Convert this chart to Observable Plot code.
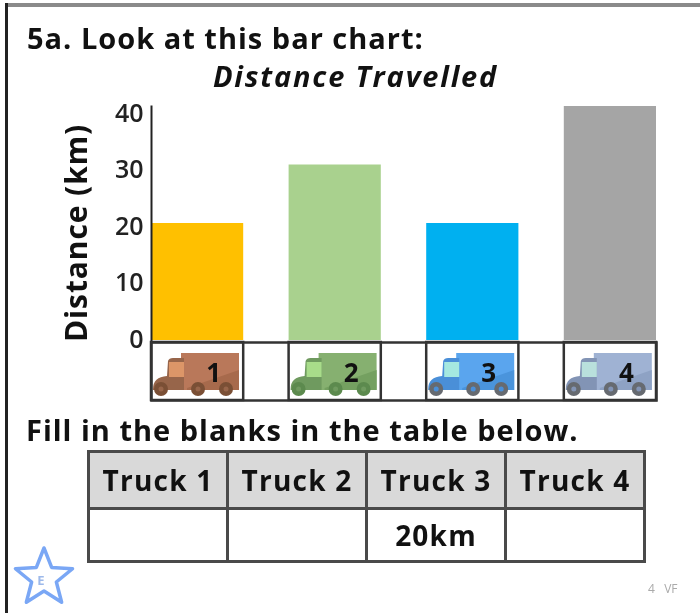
<!DOCTYPE html>
<html>
<head>
<meta charset="utf-8">
<script src="https://cdn.jsdelivr.net/npm/d3@7"></script>
<script src="https://cdn.jsdelivr.net/npm/@observablehq/plot@0.6"></script>
<style>
html,body{margin:0;padding:0;background:#fff}
#page{position:relative;width:700px;height:613px;overflow:hidden;background:#fff;font-family:"Open Sans",sans-serif;color:#111;filter:blur(0.6px)}
#page svg{position:absolute;left:0;background:transparent}
.t{position:absolute;white-space:nowrap;font-weight:700}
#frameTop{position:absolute;left:5px;top:3px;width:695px;height:4px;background:#8a8a8a}
#frameLeft{position:absolute;left:5px;top:3px;width:3px;height:610px;background:#222}
table{position:absolute;left:87px;top:450px;width:559px;height:113px;border-collapse:collapse;table-layout:fixed;font-weight:700;font-size:28px;letter-spacing:1.2px}
td,th{border:3px solid #4a4a4a;text-align:center;padding:0}
th{background:#d9d9d9;height:54px}
</style>
</head>
<body>
<div id="page">
  <div id="frameTop"></div><div id="frameLeft"></div>
  <div class="t" style="left:27px;top:18px;font-size:29px;letter-spacing:1px" id="title"></div>
  <div class="t" style="left:0;width:711px;text-align:center;top:56px;font-size:29px;font-style:italic;letter-spacing:1.8px" id="sub"></div>
  <div class="t" style="left:26px;top:410px;font-size:29px;letter-spacing:1px" id="fill"></div>
  <div class="t" style="left:648px;top:580px;font-size:12px;color:#aaa;font-weight:400;white-space:pre">4   VF</div>
</div>
<script>
const heading = "5a. Look at this bar chart:";
const chartTitle = "Distance Travelled";
const instruction = "Fill in the blanks in the table below.";
const yLabel = "Distance (km)";
const trucks = ["1", "2", "3", "4"];
const distances = [20, 30, 20, 40];
const barColors = ["#ffc000", "#a9d18e", "#00b0f0", "#a5a5a5"];
const yTicks = [0, 10, 20, 30, 40];
const tableHeaders = ["Truck 1", "Truck 2", "Truck 3", "Truck 4"];
const tableValues = ["", "", "20km", ""];
const truckBody = ["#b9785a", "#86b070", "#5aa5ee", "#9fb2d3"];
const truckLower = ["#a76a4c", "#74a060", "#4a94dc", "#8ea2c4"];
const truckCab = ["#97654a", "#6f9a5f", "#4a8fd8", "#8294b5"];
const truckWindow = ["#dc9668", "#a8dc8a", "#a5e8e0", "#b9e0dc"];
const truckWheel = ["#7a4f35", "#5c8a4e", "#666a70", "#666a70"];

const page = document.getElementById("page");
document.getElementById("title").textContent = heading;
document.getElementById("sub").textContent = chartTitle;
document.getElementById("fill").textContent = instruction;

const font = "'Open Sans', sans-serif";
const xScale = {domain: trucks, paddingInner: 0.33, paddingOuter: 0, align: 0, round: false};

// Bars
const bars = Plot.plot({
  width: 700, height: 613,
  marginTop: 106, marginBottom: 273, marginLeft: 151, marginRight: 44,
  style: {fontFamily: font, background: "transparent"},
  x: {...xScale, axis: null},
  y: {domain: [0, 40], axis: null},
  marks: [
    Plot.barY(trucks, {x: d => d, y: (d, i) => distances[i], fill: (d, i) => barColors[i]}),
    Plot.frame({anchor: "left", stroke: "#222", strokeWidth: 2})
  ],
  color: {type: "identity"}
});
bars.style.top = "0px";
page.appendChild(bars);

// Value axis: its labels sit on a slightly tighter spacing than the bars
const axis = Plot.plot({
  width: 700, height: 613,
  marginTop: 113, marginBottom: 274, marginLeft: 145, marginRight: 44,
  style: {fontFamily: font, background: "transparent", color: "#222"},
  x: {...xScale, axis: null},
  y: {domain: [0, 40], axis: null},
  marks: [
    Plot.axisY({ticks: yTicks, tickSize: 0, tickPadding: 2, label: null, fontSize: 25, fontWeight: 600})
  ]
});
axis.style.top = "0px";
page.appendChild(axis);

// Axis title, centred on the span it occupies in the reference
const axisTitle = Plot.plot({
  width: 700, height: 613,
  marginTop: 122, marginBottom: 270, marginLeft: 145, marginRight: 44,
  style: {fontFamily: font, background: "transparent", color: "#111", letterSpacing: "0.9px"},
  x: {...xScale, axis: null},
  y: {domain: [0, 40], axis: null},
  marks: [
    Plot.axisY({ticks: [], tickSize: 0, label: yLabel, labelAnchor: "center", labelArrow: "none", labelOffset: 80, fontSize: 30, fontWeight: 700})
  ]
});
axisTitle.style.top = "0px";
page.appendChild(axisTitle);

// Truck strip under the bars
function truckMark(index, scales) {
  const ns = "http://www.w3.org/2000/svg";
  const root = document.createElementNS(ns, "g");
  trucks.forEach((t, i) => {
    const g = d3.select(root).append("g").attr("transform", `translate(${scales.x(t)},2)`);
    g.append("path").attr("d", "M30 11 H88 V48 H30 Z").attr("fill", truckBody[i]);
    g.append("path").attr("d", "M36 46 L88 28 V48 H36 Z").attr("fill", truckLower[i]);
    g.append("path").attr("d", "M2 47 Q2 35 16 34 L17 19 Q18 16 22 16 H33 V48 H2 Z").attr("fill", truckCab[i]);
    g.append("rect").attr("x", 18).attr("y", 20).attr("width", 15).attr("height", 15).attr("fill", truckWindow[i]);
    [10, 47, 75].forEach(cx => {
      g.append("circle").attr("cx", cx).attr("cy", 47).attr("r", 7).attr("fill", truckWheel[i]);
      g.append("circle").attr("cx", cx).attr("cy", 47).attr("r", 2.5).attr("fill", truckCab[i]);
    });
  });
  return root;
}
const strip = Plot.plot({
  width: 700, height: 62,
  marginTop: 2, marginBottom: 2, marginLeft: 151, marginRight: 44,
  style: {fontFamily: font, background: "transparent"},
  x: {...xScale, axis: null},
  marks: [
    truckMark,
    Plot.cell(trucks, {x: d => d, fill: "none", stroke: "#333", strokeWidth: 2.5}),
    Plot.frame({stroke: "#333", strokeWidth: 2.5}),
    Plot.text(trucks, {x: d => d, text: d => d, dx: 16, dy: 2, fontSize: 26, fontWeight: 700, fill: "#111"})
  ]
});
strip.style.top = "340px";
page.appendChild(strip);

// Table
const table = d3.select(page).append("table");
table.append("tr").selectAll("th").data(tableHeaders).join("th").text(d => d);
table.append("tr").selectAll("td").data(tableValues).join("td").text(d => d);

// Star badge
const star = d3.select(page).append("svg").attr("width", 80).attr("height", 80).style("top", "540px");
const pts = d3.range(10).map(i => {
  const r = i % 2 ? 13 : 30, a = -Math.PI / 2 + i * Math.PI / 5;
  return [44 + r * Math.cos(a), 38 + r * Math.sin(a)];
});
star.append("polygon").attr("points", pts.join(" ")).attr("fill", "#fff").attr("stroke", "#7aa7f5").attr("stroke-width", 3.5).attr("stroke-linejoin", "round");
star.append("text").attr("x", 41).attr("y", 45).attr("text-anchor", "middle").attr("font-size", 13).attr("font-weight", 700).attr("fill", "#9db9ea").text("E");
</script>
</body>
</html>
